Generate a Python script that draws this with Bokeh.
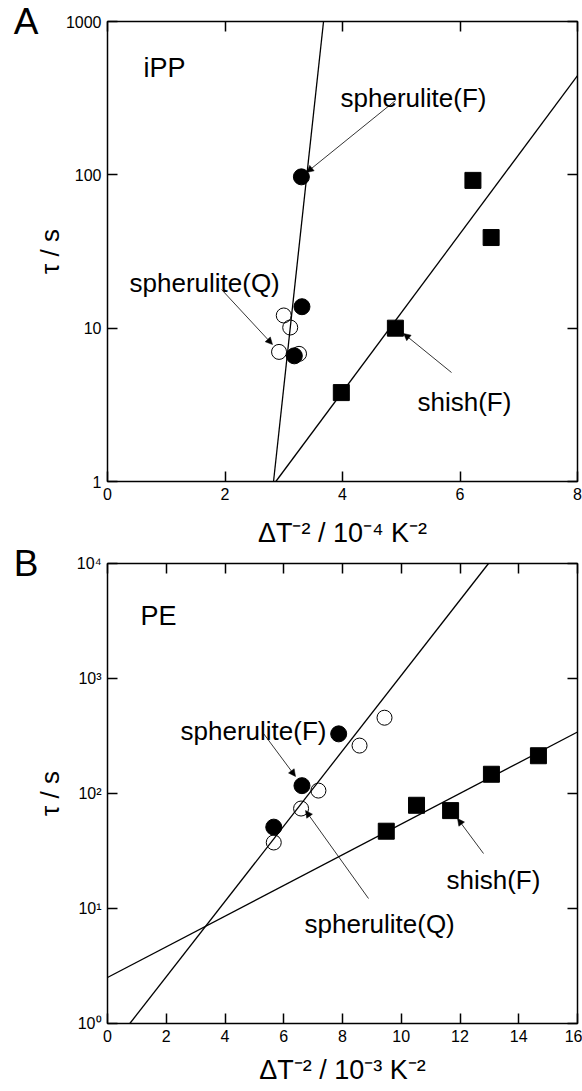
import numpy as np
from bokeh.plotting import figure
from bokeh.models import Label, Arrow, NormalHead, LinearAxis, LogAxis, FixedTicker, Range1d, BasicTickFormatter
from bokeh.layouts import column
from bokeh.embed import file_html
from bokeh.resources import INLINE

# ---------------- data: panel A (iPP) ----------------
A_sphF_x = [3.30, 3.31, 3.18]
A_sphF_tau = [97, 13.8, 6.6]
A_sphQ_x = [3.00, 3.11, 2.92, 3.26]
A_sphQ_tau = [12.1, 10.1, 7.0, 6.8]
A_shish_x = [3.98, 4.90, 6.22, 6.53]
A_shish_tau = [3.8, 10.0, 92, 39]
A_fit_sph = [-9.962, 3.525]      # log10(tau) = a + b*x
A_fit_shish = [-1.477, 0.5155]
A_xticks = [0, 2, 4, 6, 8]
A_yticks = [1, 10, 100, 1000]
A_ytick_labels = ["1", "10", "100", "1000"]
A_xlabel = "\u0394T\u207b\u00b2 / 10\u207b\u2074 K\u207b\u00b2"

# ---------------- data: panel B (PE) ----------------
B_sphF_x = [5.66, 6.62, 7.87]
B_sphF_tau = [51, 117, 330]
B_sphQ_x = [5.66, 6.59, 7.18, 8.58, 9.43]
B_sphQ_tau = [37.5, 74, 106, 261, 456]
B_shish_x = [9.49, 10.52, 11.68, 13.07, 14.67]
B_shish_tau = [47, 79, 71, 147, 213]
B_fit_sph = [-0.249, 0.3276]
B_fit_shish = [0.40, 0.1334]
B_xticks = [0, 2, 4, 6, 8, 10, 12, 14, 16]
B_yticks = [1, 10, 100, 1000, 10000]
B_ytick_labels = ["10\u2070", "10\u00b9", "10\u00b2", "10\u00b3", "10\u2074"]
B_xlabel = "\u0394T\u207b\u00b2 / 10\u207b\u00b3 K\u207b\u00b2"

YLABEL = "\u03c4 / s"
FONT = "Liberation Sans"
FL, FR = 107, 577          # frame left/right on page
W = 582


def style_axis(ax, ticks, show, overrides=None):
    ax.ticker = FixedTicker(ticks=ticks)
    ax.axis_line_color = None
    ax.major_tick_in = 10
    ax.major_tick_out = 0
    ax.minor_tick_out = 0
    ax.minor_tick_in = 0
    ax.major_tick_line_width = 1.5
    ax.major_tick_line_color = "black"
    ax.minor_tick_line_color = None
    ax.axis_label = None
    if show:
        ax.major_label_text_font = FONT
        ax.major_label_text_font_size = "16px"
        ax.major_label_text_color = "black"
        if overrides:
            ax.major_label_overrides = overrides
    else:
        ax.major_label_text_font_size = "0px"
        ax.major_label_standoff = 0
        ax.major_label_overrides = {t: "" for t in ticks}


def make_panel(page_top, height, ft, fb, xr, yr, xticks, yticks, ylabels,
               xlabel, xlab_standoff, ylab_standoff, letter, letter_tick):
    p = figure(width=W, height=height,
               x_range=Range1d(*xr), y_range=Range1d(*yr), y_axis_type="log",
               output_backend="svg", toolbar_location=None,
               min_border_left=FL, min_border_right=W - FR,
               min_border_top=ft - page_top, min_border_bottom=page_top + height - fb)
    p.grid.visible = False
    p.outline_line_color = "black"
    p.outline_line_width = 1.5
    p.background_fill_color = "white"
    p.border_fill_color = None
    xa = p.xaxis[0]
    style_axis(xa, xticks, True)
    xa.formatter = BasicTickFormatter()
    xa.major_label_standoff = 6
    xa.axis_label = xlabel
    xa.axis_label_text_font = FONT
    xa.axis_label_text_font_size = "27px"
    xa.axis_label_text_font_style = "normal"
    xa.axis_label_text_color = "black"
    xa.axis_label_standoff = xlab_standoff
    ya = p.yaxis[0]
    style_axis(ya, yticks, True, {t: l for t, l in zip(yticks, ylabels)})
    ya.formatter = BasicTickFormatter()
    ya.major_label_standoff = 6
    ya.axis_label = YLABEL
    ya.axis_label_text_font = FONT
    ya.axis_label_text_font_size = "26px"
    ya.axis_label_text_font_style = "normal"
    ya.axis_label_text_color = "black"
    ya.axis_label_standoff = ylab_standoff
    # panel letter carried by an extra (tick-less) left axis
    la = LogAxis()
    la.ticker = FixedTicker(ticks=[letter_tick])
    la.major_label_overrides = {letter_tick: letter}
    la.axis_line_color = None
    la.major_tick_line_color = None
    la.minor_tick_line_color = None
    la.major_tick_out = 0
    la.minor_tick_out = 0
    la.major_label_standoff = -7
    la.major_label_text_font = FONT
    la.major_label_text_font_size = "37px"
    la.major_label_text_color = "black"
    p.add_layout(la, "left")
    top = LinearAxis()
    style_axis(top, xticks, False)
    p.add_layout(top, "above")
    right = LogAxis()
    style_axis(right, yticks, False)
    p.add_layout(right, "right")

    x0, x1 = xr
    ly0, ly1 = np.log10(yr[0]), np.log10(yr[1])

    def X(px):
        return x0 + (px - FL) / (FR - FL) * (x1 - x0)

    def Y(py):
        return 10 ** (ly0 + (fb - py) / (fb - ft) * (ly1 - ly0))
    return p, X, Y


def fit_line(p, fit, xr, yr):
    a, b = fit
    lo = max(xr[0], (np.log10(yr[0]) - a) / b)
    hi = min(xr[1], (np.log10(yr[1]) - a) / b)
    xs = np.array([lo, hi])
    p.line(xs, 10 ** (a + b * xs), line_color="black", line_width=1.3)


def lab(p, X, Y, text, px, py, size="26px", style="normal"):
    p.add_layout(Label(x=X(px), y=Y(py), text=text, text_font=FONT, text_font_size=size,
                       text_font_style=style, text_color="black", text_align="left",
                       text_baseline="alphabetic"))


def arrow(p, X, Y, x0, y0, x1, y1):
    p.add_layout(Arrow(end=NormalHead(size=7, fill_color="black", line_color="black", line_width=0.5),
                       x_start=X(x0), y_start=Y(y0), x_end=X(x1), y_end=Y(y1),
                       line_color="black", line_width=0.8))


# ---------------- panel A ----------------
A_xr, A_yr = (0, 8), (1, 1000)
pA, XA, YA = make_panel(0, 552, 21, 481, A_xr, A_yr, A_xticks, A_yticks, A_ytick_labels,
                        A_xlabel, 15, -2, "A", 1000)
fit_line(pA, A_fit_sph, A_xr, A_yr)
fit_line(pA, A_fit_shish, A_xr, A_yr)
pA.scatter(A_sphQ_x, A_sphQ_tau, marker="circle", size=15, fill_color=None, line_color="black", line_width=1)
pA.scatter(A_sphF_x, A_sphF_tau, marker="circle", size=16, fill_color="black", line_color="black")
pA.scatter(A_shish_x, A_shish_tau, marker="square", size=16, fill_color="black", line_color="black")
lab(pA, XA, YA, "iPP", 143, 67, "27px")
lab(pA, XA, YA, "spherulite(F)", 340, 97)
lab(pA, XA, YA, "spherulite(Q)", 129, 282)
lab(pA, XA, YA, "shish(F)", 417, 401)
arrow(pA, XA, YA, 395, 100, 306, 172)
arrow(pA, XA, YA, 221, 289, 272, 344)
arrow(pA, XA, YA, 451, 372, 403, 333)

# ---------------- panel B ----------------
B_TOP = 541   # B canvas overlaps the (transparent) bottom strip of A by 11 px
B_xr, B_yr = (0, 16), (1, 10000)
pB, XB, YB = make_panel(B_TOP, 1089 - B_TOP, 563, 1023, B_xr, B_yr, B_xticks, B_yticks, B_ytick_labels,
                        B_xlabel, 10, 9, "B", 10000)
pB.margin = (B_TOP - 552, 0, 0, 0)
fit_line(pB, B_fit_sph, B_xr, B_yr)
fit_line(pB, B_fit_shish, B_xr, B_yr)
pB.scatter(B_sphQ_x, B_sphQ_tau, marker="circle", size=15, fill_color=None, line_color="black", line_width=1)
pB.scatter(B_sphF_x, B_sphF_tau, marker="circle", size=16, fill_color="black", line_color="black")
pB.scatter(B_shish_x, B_shish_tau, marker="square", size=16, fill_color="black", line_color="black")
lab(pB, XB, YB, "PE", 140, 615, "27px")
lab(pB, XB, YB, "spherulite(F)", 180, 730)
lab(pB, XB, YB, "spherulite(Q)", 304, 923)
lab(pB, XB, YB, "shish(F)", 446, 879)
arrow(pB, XB, YB, 263, 733, 295, 776)
arrow(pB, XB, YB, 368, 898, 305, 810)
arrow(pB, XB, YB, 483, 853, 457, 818)

layout = column(pA, pB, spacing=0)
open("out.html", "w").write(file_html(layout, INLINE))
